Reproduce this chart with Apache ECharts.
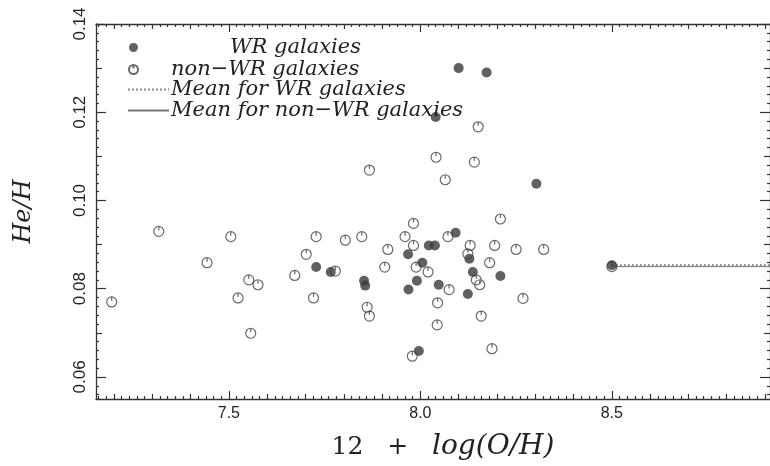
<!DOCTYPE html>
<html>
<head>
<meta charset="utf-8">
<script src="https://cdn.jsdelivr.net/npm/echarts@6/dist/echarts.min.js"></script>
<style>
  html, body { margin: 0; padding: 0; background: #fff; }
  #chart { width: 770px; height: 466px; }
</style>
</head>
<body>
<div id="chart"></div>
<script>
// WR galaxies (filled)
const WR_X = [8.100, 8.173, 8.040, 8.303, 7.728, 7.766, 7.853, 7.856, 7.968, 8.022, 8.038,
  8.005, 7.991, 7.969, 8.048, 7.996, 8.092, 8.128, 8.137, 8.209, 8.124];
const WR_Y = [0.1300, 0.1290, 0.1189, 0.1038, 0.0849, 0.0838, 0.0818, 0.0807, 0.0878, 0.0898, 0.0898,
  0.0859, 0.0818, 0.0798, 0.0809, 0.0659, 0.0927, 0.0868, 0.0838, 0.0829, 0.0788];

// non-WR galaxies (open)
const NWR_X = [7.194, 7.317, 7.443, 7.505, 7.524, 7.552, 7.557, 7.576, 7.672, 7.702, 7.721,
  7.728, 7.778, 7.804, 7.847, 7.861, 7.867, 7.867, 7.907, 7.915, 7.960, 7.979, 7.982, 7.982,
  7.989, 8.020, 8.041, 8.044, 8.045, 8.065, 8.072, 8.075, 8.124, 8.130, 8.141, 8.146, 8.151,
  8.155, 8.159, 8.181, 8.187, 8.194, 8.209, 8.250, 8.268, 8.322];
const NWR_Y = [0.0770, 0.0930, 0.0859, 0.0918, 0.0779, 0.0820, 0.0699, 0.0809, 0.0830, 0.0878, 0.0779,
  0.0918, 0.0840, 0.0910, 0.0918, 0.0758, 0.0738, 0.1069, 0.0849, 0.0889, 0.0918, 0.0647, 0.0948, 0.0898,
  0.0849, 0.0838, 0.1098, 0.0718, 0.0768, 0.1047, 0.0918, 0.0798, 0.0879, 0.0898, 0.1087, 0.0820, 0.1167,
  0.0809, 0.0738, 0.0859, 0.0664, 0.0898, 0.0958, 0.0889, 0.0778, 0.0889];

// means, marked at x = 8.5 and drawn on to the right edge
const MEAN_X = [8.5, 8.913];
const MEAN_WR = [0.0853, 0.0853];
const MEAN_NWR = [0.0850, 0.0850];

const X_TICKS = [7.5, 8.0, 8.5];
const Y_TICKS = [0.06, 0.08, 0.10, 0.12, 0.14];
const X_MIN = 7.153, X_MAX = 8.913;
const Y_MIN = 0.055, Y_MAX = 0.14;

const INK = "#333";
const SERIF = "'DejaVu Serif', 'Liberation Serif', serif";
const SANS = "'Liberation Sans', 'DejaVu Sans', sans-serif";
const OPEN_SYMBOL = "path://M10,0A10,10,0,1,1,9.99,0ZM10,1L10,8";
const OPEN_STYLE = { color: "rgba(0,0,0,0)", borderColor: "#444", borderWidth: 1.2 };
const FILL = "#3a3a3a";

function steps(from, to, step, skip) {
  const out = [];
  for (let v = from; v <= to + 1e-9; v += step) {
    const r = Math.round(v * 10000) / 10000;
    if (!skip.some((s) => Math.abs(s - r) < 1e-6)) out.push(r);
  }
  return out;
}

const xMedium = steps(7.2, 8.9, 0.1, X_TICKS);
const xMinor = steps(7.16, 8.9, 0.02, X_TICKS.concat(xMedium));
const yMedium = steps(0.07, 0.13, 0.01, Y_TICKS);
const yMinor = steps(0.056, 0.14, 0.002, Y_TICKS.concat(yMedium));

function xAx(position, ticks, len, main) {
  return {
    type: "value", position, min: X_MIN, max: X_MAX,
    axisLine: { show: main, lineStyle: { color: INK, width: 1.3 } },
    axisTick: { show: true, inside: true, length: len, customValues: ticks,
      lineStyle: { color: INK, width: 1.2 } },
    axisLabel: main && position === "bottom"
      ? { show: true, customValues: ticks, color: "#222", fontFamily: SANS, fontSize: 16, margin: 7,
          formatter: (v) => v.toFixed(1) }
      : { show: false },
    splitLine: { show: false },
  };
}

function yAx(position, ticks, len, main) {
  return {
    type: "value", position, min: Y_MIN, max: Y_MAX,
    axisLine: { show: main, lineStyle: { color: INK, width: 1.3 } },
    axisTick: { show: true, inside: true, length: len, customValues: ticks,
      lineStyle: { color: INK, width: 1.2 } },
    axisLabel: main && position === "left"
      ? { show: true, customValues: ticks, rotate: 90, color: "#222", fontFamily: SANS, fontSize: 17, margin: 7,
          formatter: (v) => v.toFixed(2) }
      : { show: false },
    splitLine: { show: false },
  };
}

const xAxes = [
  xAx("bottom", X_TICKS, 8, true),
  xAx("bottom", xMedium, 5, false),
  xAx("bottom", xMinor, 3, false),
  xAx("top", X_TICKS, 8, true),
  xAx("top", xMedium, 5, false),
  xAx("top", xMinor, 3, false),
];
xAxes[0].name = "{a|12   +   }{b|log(O/H)}";
xAxes[0].nameLocation = "middle";
xAxes[0].nameGap = 34;
xAxes[0].nameTextStyle = {
  padding: [0, 0, 0, 20],
  rich: {
    a: { fontFamily: SERIF, fontSize: 25, color: "#222" },
    b: { fontFamily: SERIF, fontSize: 28, fontStyle: "italic", color: "#222" },
  },
};

const yAxes = [
  yAx("left", Y_TICKS, 10, true),
  yAx("left", yMedium, 6, false),
  yAx("left", yMinor, 3, false),
  yAx("right", Y_TICKS, 10, true),
  yAx("right", yMedium, 6, false),
  yAx("right", yMinor, 3, false),
];
yAxes[0].name = "He/H";
yAxes[0].nameLocation = "middle";
yAxes[0].nameGap = 60;
yAxes[0].nameTextStyle = { fontFamily: SERIF, fontSize: 24, fontStyle: "italic", color: "#222" };

const zip = (xs, ys) => xs.map((x, i) => [x, ys[i]]);
const legendText = { fontFamily: SERIF, fontStyle: "italic", fontSize: 21, color: "#222", lineHeight: 19 };
const noSymbol = { color: "rgba(0,0,0,0)", borderColor: "rgba(0,0,0,0)", borderWidth: 0 };

const chart = echarts.init(document.getElementById("chart"));
chart.setOption({
  animation: false,
  grid: { left: 96, right: -2, top: 24, bottom: 59, containLabel: false },
  xAxis: xAxes,
  yAxis: yAxes,
  legend: [
    {
      orient: "vertical", left: 123, top: 32, itemWidth: 9, itemHeight: 9, itemGap: 1,
      textStyle: Object.assign({}, legendText, { padding: [0, 0, 0, 28] }),
      data: [
        { name: "WR galaxies", textStyle: { padding: [0, 0, 0, 87] } },
        { name: "non−WR galaxies" },
      ],
    },
    {
      orient: "vertical", left: 122, top: 74, itemWidth: 41, itemHeight: 10, itemGap: 0,
      textStyle: Object.assign({}, legendText, { padding: [0, 0, 0, -3] }),
      data: [
        { name: "Mean for WR galaxies", itemStyle: noSymbol },
        { name: "Mean for non−WR galaxies", itemStyle: noSymbol },
      ],
    },
  ],
  series: [
    {
      name: "non−WR galaxies", type: "scatter", symbol: OPEN_SYMBOL, symbolSize: 10,
      itemStyle: OPEN_STYLE,
      data: zip(NWR_X, NWR_Y),
    },
    {
      name: "WR galaxies", type: "scatter", symbol: "circle", symbolSize: 10,
      itemStyle: { color: FILL },
      data: zip(WR_X, WR_Y),
    },
    {
      name: "Mean for non−WR galaxies", type: "line", symbol: "none", showSymbol: false,
      itemStyle: { color: "#777" },
      lineStyle: { color: "#777", width: 1 },
      data: zip(MEAN_X, MEAN_NWR),
    },
    {
      name: "Mean for WR galaxies", type: "line", symbol: "none", showSymbol: false,
      itemStyle: { color: "#888" },
      lineStyle: { color: "#888", width: 2, type: "dotted" },
      data: zip(MEAN_X, MEAN_WR),
    },
    {
      name: "mean marker non-WR", type: "scatter", symbol: OPEN_SYMBOL, symbolSize: 10,
      itemStyle: OPEN_STYLE, z: 3,
      data: [[MEAN_X[0], MEAN_NWR[0]]],
    },
    {
      name: "mean marker WR", type: "scatter", symbol: "circle", symbolSize: 10,
      itemStyle: { color: FILL }, z: 4,
      data: [[MEAN_X[0], MEAN_WR[0]]],
    },
  ],
});
</script>
</body>
</html>
